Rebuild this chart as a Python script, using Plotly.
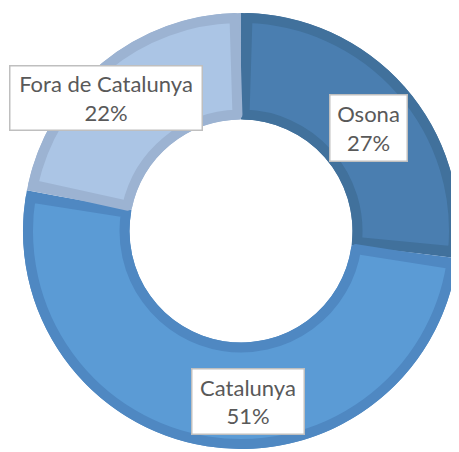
import plotly.graph_objects as go

labels = ["Osona", "Catalunya", "Fora de Catalunya"]
values = [27, 51, 22]
fill_colors = ["#4A7EB0", "#5B9BD5", "#ABC5E5"]
edge_colors = ["#41719C", "#4F88C2", "#9CB3D2"]

# page has an 8px body margin; figure is laid out in page pixels minus that
OFF = 8
W, H = 451, 444
cx, cy = 241 - OFF, 231 - OFF   # centre, px from figure top-left
R_out, R_in = 218, 111.5        # outer radius / hole radius
bevel = 10                      # inner border width

def dom(r):
    return dict(x=[max(0, (cx - r) / W), min(1, (cx + r) / W)],
                y=[max(0, (H - cy - r) / H), min(1, (H - cy + r) / H)])

fig = go.Figure()

# dark base ring
fig.add_trace(go.Pie(
    labels=labels, values=values, sort=False, direction="clockwise", rotation=0,
    hole=R_in / R_out, domain=dom(R_out),
    marker=dict(colors=edge_colors, line=dict(width=0)),
    textinfo="none", hoverinfo="label+percent", showlegend=False))

# light inset with own-coloured border
r_mid = (R_out + R_in) / 2
gap = (bevel / 2) / r_mid / (2 * 3.141592653589793) * sum(values)
v2, c2, lc2, lw2 = [], [], [], []
for v, fc, ec in zip(values, fill_colors, edge_colors):
    v2 += [gap, v - 2 * gap, gap]
    c2 += ["rgba(0,0,0,0)", fc, "rgba(0,0,0,0)"]
    lc2 += ["rgba(0,0,0,0)", ec, "rgba(0,0,0,0)"]
    lw2 += [0, bevel, 0]
R2 = R_out - bevel / 2
fig.add_trace(go.Pie(
    values=v2, labels=[str(i) for i in range(len(v2))], sort=False,
    direction="clockwise", rotation=0,
    hole=(R_in + bevel / 2) / R2, domain=dom(R2),
    marker=dict(colors=c2, line=dict(color=lc2, width=lw2)),
    textinfo="none", hoverinfo="skip", showlegend=False))

# label boxes: (centre x px, centre y px on page, box w, box h)
boxes = [(368, 127.5, 80, 69), (248.5, 401, 115, 68), (105.5, 98.5, 195, 67)]
total = sum(values)
for (bx, by, bw, bh), lab, v in zip(boxes, labels, values):
    fig.add_annotation(
        x=(bx - OFF) / W, y=1 - (by - OFF) / H, xref="paper", yref="paper",
        xanchor="center", yanchor="middle", showarrow=False,
        text=f"{lab}<br>{round(v / total * 100)}%",
        font=dict(family="Lato", size=22, color="#595959"),
        align="center", bgcolor="white", bordercolor="#BFBFBF", borderwidth=1.5,
        borderpad=2, width=bw - 8, height=bh - 8)

fig.update_layout(width=W, height=H, margin=dict(l=0, r=0, t=0, b=0),
                  paper_bgcolor="white", plot_bgcolor="white", showlegend=False)

fig.write_html("out.html")
